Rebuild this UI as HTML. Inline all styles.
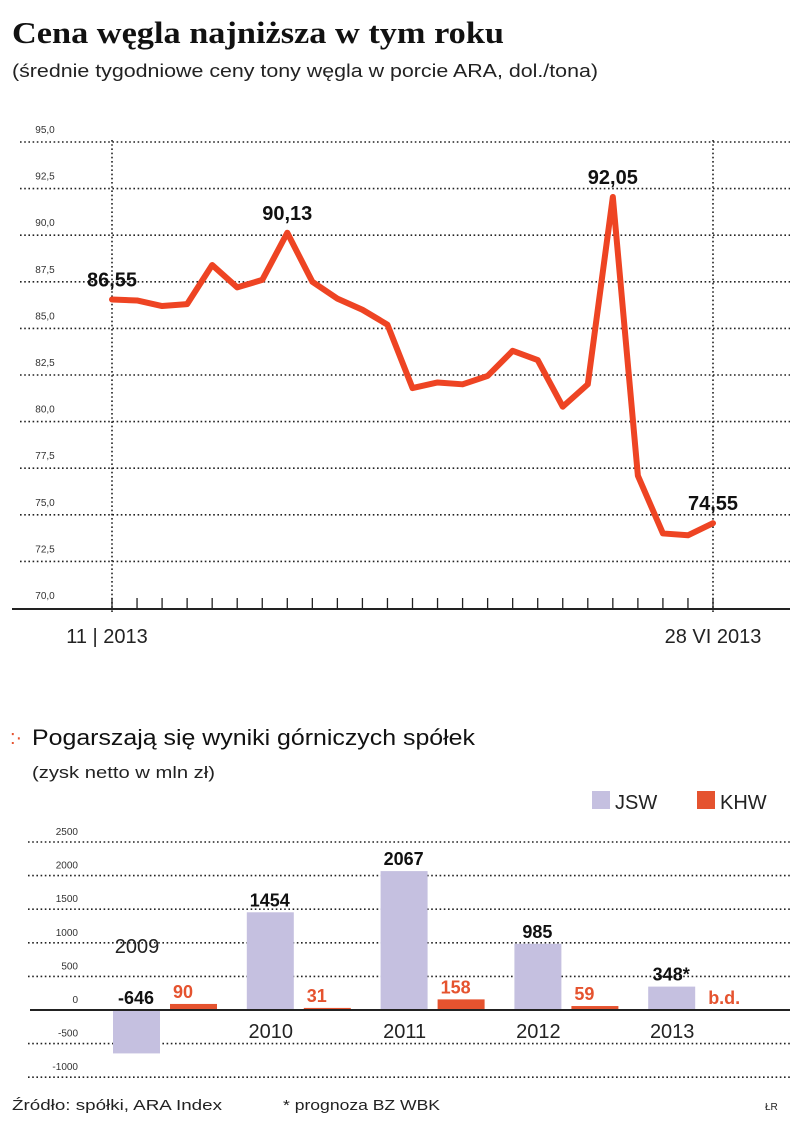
<!DOCTYPE html>
<html><head><meta charset="utf-8"><style>
body{margin:0;background:#fff;width:805px;height:1135px;overflow:hidden;font-family:"Liberation Sans",sans-serif}
svg{position:absolute;left:0;top:0}
</style></head><body>
<svg id="s" width="805" height="1135" xmlns="http://www.w3.org/2000/svg">
<text x="12" y="43" font-family="Liberation Serif,serif" font-weight="bold" font-size="31" fill="#111" textLength="492" lengthAdjust="spacingAndGlyphs">Cena węgla najniższa w tym roku</text>
<text x="12" y="77" font-size="18" fill="#222" textLength="586" lengthAdjust="spacingAndGlyphs">(średnie tygodniowe ceny tony węgla w porcie ARA, dol./tona)</text>
<g id="line"></g>
<text x="10" y="744" font-size="20" fill="#e5532f">:·</text>
<text x="32" y="745" font-size="22" fill="#111" textLength="443" lengthAdjust="spacingAndGlyphs">Pogarszają się wyniki górniczych spółek</text>
<text x="32" y="778" font-size="17" fill="#222" textLength="183" lengthAdjust="spacingAndGlyphs">(zysk netto w mln zł)</text>
<rect x="592" y="791" width="18" height="18" fill="#c5c0e0"/>
<text x="615" y="809" font-size="20" fill="#222">JSW</text>
<rect x="697" y="791" width="18" height="18" fill="#e5532f"/>
<text x="720" y="809" font-size="20" fill="#222">KHW</text>
<g id="bars"></g>
<text x="12" y="1110" font-size="15" fill="#222" textLength="210" lengthAdjust="spacingAndGlyphs">Źródło: spółki, ARA Index</text>
<text x="283" y="1110" font-size="15" fill="#222" textLength="157" lengthAdjust="spacingAndGlyphs">* prognoza BZ WBK</text>
<text x="765" y="1110" font-size="10" fill="#222">ŁR</text>
</svg>
<script>
const yTicks=[70,72.5,75,77.5,80,82.5,85,87.5,90,92.5,95];
const yTickLabels=["70,0","72,5","75,0","77,5","80,0","82,5","85,0","87,5","90,0","92,5","95,0"];
const prices=[86.55,86.5,86.2,86.3,88.4,87.2,87.6,90.13,87.5,86.6,86.0,85.2,81.8,82.1,82.0,82.45,83.8,83.3,80.8,82.0,92.05,77.1,74.0,73.9,74.55];
const priceLabels=[[0,"86,55"],[7,"90,13"],[20,"92,05"],[24,"74,55"]];
const years=["2009","2010","2011","2012","2013"];
const jsw=[-646,1454,2067,985,348];
const khw=[90,31,158,59,null];
const jswLabels=["-646","1454","2067","985","348*"];
const khwLabels=["90","31","158","59","b.d."];
const barTicks=[-1000,-500,0,500,1000,1500,2000,2500];
const NS="http://www.w3.org/2000/svg";
function mk(p,t,a,txt){const e=document.createElementNS(NS,t);for(const k in a)e.setAttribute(k,a[k]);if(txt!=null)e.textContent=txt;p.appendChild(e);return e;}
const L=document.getElementById('line');
const ly=v=>608-(v-70)*18.64;
const lx=i=>112+i*(713-112)/(prices.length-1);
yTicks.forEach((t,k)=>{
  if(t>70){const g=mk(L,'line',{x1:20,x2:790,y1:ly(t),y2:ly(t),stroke:'#222','stroke-width':1.6,'stroke-dasharray':'1.6 2.6'});
  
  }
  const tx=mk(L,'text',{x:45,y:ly(t)-9,'font-size':10,fill:'#333','text-anchor':'middle'},yTickLabels[k]);
  
  
});
[0,prices.length-1].forEach(i=>{const v=mk(L,'line',{x1:lx(i),x2:lx(i),y1:140,y2:614,stroke:'#222','stroke-width':1.6,'stroke-dasharray':'1.6 2.6'});

});
const ax=mk(L,'line',{x1:12,x2:790,y1:609,y2:609,stroke:'#222','stroke-width':2});


prices.forEach((p,i)=>{const t=mk(L,'line',{x1:lx(i),x2:lx(i),y1:598,y2:609,stroke:'#222','stroke-width':1.3});

});
const pl=mk(L,'polyline',{points:prices.map((p,i)=>lx(i)+','+ly(p)).join(' '),fill:'none',stroke:'#ee4423','stroke-width':6,'stroke-linejoin':'round','stroke-linecap':'round'});


priceLabels.forEach(([i,s])=>{const t=mk(L,'text',{x:lx(i),y:ly(prices[i])-13,'font-size':20,'font-weight':'bold',fill:'#111','text-anchor':'middle'},s);

});
const d1=mk(L,'text',{x:lx(0)-5,y:643,'font-size':20,fill:'#222','text-anchor':'middle'},'11 | 2013');


const d2=mk(L,'text',{x:lx(prices.length-1),y:643,'font-size':20,fill:'#222','text-anchor':'middle'},'28 VI 2013');


const B=document.getElementById('bars');
const by=v=>1010-v*0.0672;
barTicks.forEach(t=>{
  if(t!==0){const g=mk(B,'line',{x1:28,x2:790,y1:by(t),y2:by(t),stroke:'#222','stroke-width':1.6,'stroke-dasharray':'1.6 2.6'});
  
  }
  const tx=mk(B,'text',{x:78,y:by(t)-7,'font-size':10,fill:'#333','text-anchor':'end'},String(t));
  
  
});
const bx=i=>113+i*133.8;
years.forEach((y,i)=>{
  const x=bx(i),v=jsw[i];
  const r=mk(B,'rect',{x:x,y:Math.min(by(v),by(0)),width:47,height:Math.abs(by(v)-by(0)),fill:'#c5c0e0'});
  
  
  const jl=mk(B,'text',{x:x+23,y:(v>=0?by(v):by(0))-6,'font-size':18,'font-weight':'bold',fill:'#111','text-anchor':'middle'},jswLabels[i]);
  
  
  if(khw[i]!=null){const k=mk(B,'rect',{x:x+57,y:by(khw[i]),width:47,height:by(0)-by(khw[i]),fill:'#e5532f'});
  
  }
  const kv=khw[i]==null?0:khw[i];
  const kl=mk(B,'text',{x:x+60,y:by(kv)-6,'font-size':18,'font-weight':'bold',fill:'#e5532f'},khwLabels[i]);
  
  
  const yl=mk(B,'text',{x:x+24,y:i===0?953:1038,'font-size':20,fill:'#222','text-anchor':'middle'},y);
  
  
});
const z=mk(B,'line',{x1:30,x2:790,y1:by(0),y2:by(0),stroke:'#222','stroke-width':2});


</script>
</body></html>
